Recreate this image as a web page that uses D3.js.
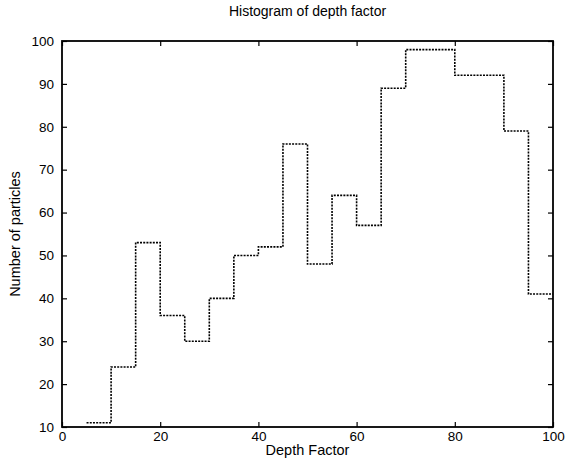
<!DOCTYPE html>
<html>
<head>
<meta charset="utf-8">
<script src="https://cdn.jsdelivr.net/npm/d3@7"></script>
<style>
  html, body { margin: 0; padding: 0; background: #fff; }
  svg { display: block; }
  text { font-family: "Liberation Sans", Arial, Helvetica, sans-serif; fill: #000; }
</style>
</head>
<body>
<svg id="chart" width="565" height="459"></svg>
<script>
// Data
const binEdges = [5, 10, 15, 20, 25, 30, 35, 40, 45, 50, 55, 60, 65, 70, 75, 80, 85, 90, 95, 100];
const counts   = [11, 24, 53, 36, 30, 40, 50, 52, 76, 48, 64, 57, 89, 98, 98, 92, 92, 79, 41];
const xTicks = [0, 20, 40, 60, 80, 100];
const yTicks = [10, 20, 30, 40, 50, 60, 70, 80, 90, 100];
const titleText = "Histogram of depth factor";
const xLabel = "Depth Factor";
const yLabel = "Number of particles";

const svg = d3.select("#chart");
const m = { left: 62, right: 553, top: 41, bottom: 427 };
const x = d3.scaleLinear().domain([0, 100]).range([m.left, m.right]);
const y = d3.scaleLinear().domain([10, 100]).range([m.bottom, m.top]);

// Step line data
const pts = [];
counts.forEach((c, i) => {
  pts.push([binEdges[i], c]);
  pts.push([binEdges[i + 1], c]);
});
const line = d3.line().x(d => x(d[0])).y(d => y(d[1]));
svg.append("path")
  .attr("d", line(pts))
  .attr("fill", "none")
  .attr("stroke", "#000")
  .attr("stroke-width", 1.6)
  .attr("stroke-dasharray", "2,1.2");

// Frame
svg.append("rect")
  .attr("x", m.left).attr("y", m.top)
  .attr("width", m.right - m.left).attr("height", m.bottom - m.top)
  .attr("fill", "none").attr("stroke", "#000").attr("stroke-width", 1.8);

// Axes (inward ticks)
const tl = 5;
const xb = svg.append("g").attr("transform", `translate(0,${m.bottom})`)
  .call(d3.axisBottom(x).tickValues(xTicks).tickSize(-tl).tickPadding(tl + 1));
const xt = svg.append("g").attr("transform", `translate(0,${m.top})`)
  .call(d3.axisTop(x).tickValues(xTicks).tickSize(-tl).tickFormat(""));
const yl = svg.append("g").attr("transform", `translate(${m.left},0)`)
  .call(d3.axisLeft(y).tickValues(yTicks).tickSize(-tl).tickPadding(tl + 3));
const yr = svg.append("g").attr("transform", `translate(${m.right},0)`)
  .call(d3.axisRight(y).tickValues(yTicks).tickSize(-tl).tickFormat(""));
[xb, xt, yl, yr].forEach(g => {
  g.select(".domain").remove();
  g.selectAll("line").attr("stroke", "#000").attr("stroke-width", 1.2);
  g.selectAll("text").style("font-size", "13.5px").style("font-family", '"Liberation Sans", Arial, sans-serif');
});
xb.selectAll("text").attr("dy", "0.6em");

// Title and labels
svg.append("text").attr("x", (m.left + m.right) / 2).attr("y", 16)
  .attr("text-anchor", "middle").style("font-size", "14px").text(titleText);
svg.append("text").attr("x", (m.left + m.right) / 2).attr("y", 455)
  .attr("text-anchor", "middle").style("font-size", "14.5px").text(xLabel);
svg.append("text").attr("transform", `translate(20,${(m.top + m.bottom) / 2}) rotate(-90)`)
  .attr("text-anchor", "middle").style("font-size", "14.5px").text(yLabel);
</script>
</body>
</html>
